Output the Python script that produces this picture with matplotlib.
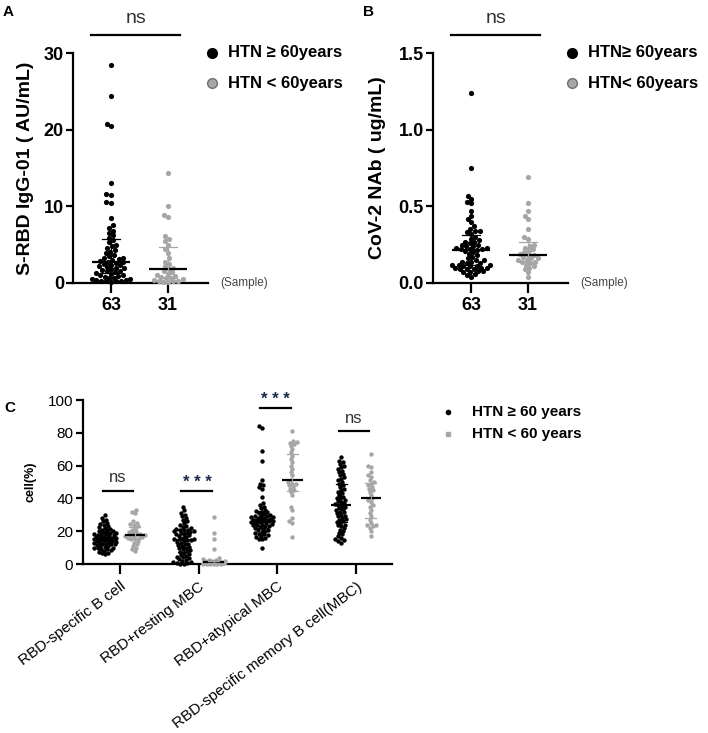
import numpy as np
import matplotlib as mpl
mpl.use('Agg')
import matplotlib.pyplot as plt
from matplotlib.lines import Line2D

plt.rcParams['font.family'] = ['Liberation Sans', 'DejaVu Sans']

# ---- data ----
groups_ab = ['HTN \u2265 60years', 'HTN < 60years']

igg_old = [28.4, 24.4, 20.7, 20.5, 13.1, 11.6, 11.5, 10.5, 10.4, 8.5,
           7.5, 7.2, 6.8, 6.5, 6.2, 5.9, 5.6, 5.3, 5.0, 4.8,
           4.6, 4.3, 4.1, 3.9, 3.7, 3.5, 3.3, 3.2, 3.1, 3.0,
           2.9, 2.8, 2.7, 2.6, 2.5, 2.4, 2.3, 2.2, 2.1, 2.0,
           1.9, 1.8, 1.7, 1.6, 1.5, 1.4, 1.3, 1.2, 1.1, 1.0,
           0.9, 0.8, 0.7, 0.6, 0.5, 0.5, 0.4, 0.4, 0.3, 0.3,
           0.2, 0.2, 0.1]
igg_young = [14.3, 10.0, 8.9, 8.6, 6.1, 5.8, 5.5, 5.0, 4.4, 3.9,
             3.2, 2.8, 2.5, 2.2, 2.0, 1.8, 1.6, 1.4, 1.2, 1.0,
             0.9, 0.8, 0.7, 0.6, 0.5, 0.4, 0.3, 0.3, 0.2, 0.1, 0.1]

nab_old = [1.24, 0.75, 0.57, 0.55, 0.53, 0.52, 0.47, 0.44, 0.42, 0.40,
           0.37, 0.35, 0.34, 0.34, 0.33, 0.32, 0.30, 0.29, 0.28, 0.27,
           0.27, 0.26, 0.25, 0.25, 0.24, 0.24, 0.23, 0.23, 0.22, 0.22,
           0.22, 0.215, 0.21, 0.20, 0.19, 0.18, 0.17, 0.16, 0.15, 0.15,
           0.14, 0.14, 0.13, 0.13, 0.12, 0.12, 0.12, 0.11, 0.11, 0.11,
           0.10, 0.10, 0.10, 0.09, 0.09, 0.09, 0.08, 0.08, 0.07, 0.07,
           0.06, 0.05, 0.04]
nab_young = [0.69, 0.52, 0.47, 0.44, 0.42, 0.35, 0.30, 0.29, 0.25, 0.24,
             0.23, 0.22, 0.21, 0.20, 0.19, 0.185, 0.18, 0.17, 0.16, 0.16,
             0.15, 0.15, 0.14, 0.14, 0.13, 0.12, 0.11, 0.10, 0.09, 0.07, 0.04]

cell_types = ['RBD-specific B cell', 'RBD+resting MBC', 'RBD+atypical MBC',
              'RBD-specific memory B cell(MBC)']
groups_c = ['HTN \u2265 60 years', 'HTN < 60 years']
signif_c = ['ns', '* * *', '* * *', 'ns']

bcell_old = [30, 28, 27, 26, 25, 24.5, 24, 23, 22.5, 22,
             21.5, 21, 20.5, 20, 20, 19.5, 19, 19, 18.5, 18,
             18, 17.5, 17.5, 17, 17, 16.5, 16.5, 16, 16, 16,
             15.5, 15.5, 15, 15, 15, 14.5, 14.5, 14, 14, 14,
             13.5, 13.5, 13, 13, 12.5, 12.5, 12, 12, 11.5, 11,
             11, 10.5, 10, 10, 9.5, 9, 9, 8.5, 8, 7.5, 7, 6.5, 6]
bcell_young = [33, 32, 31, 26, 25, 24.5, 24, 23, 22, 21,
               20, 19.5, 19, 18.5, 18, 17.7, 17.5, 17, 17, 16.5,
               16, 16, 15.5, 15, 14, 13, 12, 11, 10, 9, 8]
resting_old = [35, 33, 31, 30, 29, 28, 27, 26, 25, 24,
               23, 22.5, 22, 21.5, 21, 21, 20.5, 20, 20, 19.5,
               19, 19, 18.5, 18, 17.5, 17, 16.5, 16, 15.5, 15,
               15, 14.8, 14.5, 14, 13.5, 13, 12.5, 12, 11.5, 11,
               10.5, 10, 9.5, 9, 8.5, 8, 7.5, 7, 6, 5.5,
               5, 4.5, 4, 3.5, 3, 2.5, 2, 1.5, 1, 0.8, 0.5, 0.3, 0.2]
resting_young = [28.5, 18.7, 15, 9, 3.5, 3, 2.5, 2.2, 2, 1.8,
                 1.6, 1.5, 1.4, 1.3, 1.2, 1.1, 1.0, 0.9, 0.8, 0.8,
                 0.7, 0.6, 0.5, 0.5, 0.4, 0.3, 0.3, 0.2, 0.2, 0.1, 0.1]
atyp_old = [84, 83, 69, 63, 51, 49, 48, 47, 46, 41,
            37, 36, 35, 34, 33, 32.5, 32, 31.5, 31, 30.5,
            30, 29.5, 29, 29, 28.5, 28.5, 28, 28, 27.5, 27.5,
            27, 27, 26.5, 26.5, 26, 26, 25.5, 25.5, 25, 25,
            24.5, 24, 24, 23.5, 23, 23, 22.5, 22, 21.5, 21,
            20.5, 20, 19.5, 19, 18.5, 18, 17.5, 17, 16.5, 16, 15.5, 15, 10]
atyp_young = [81, 75, 74.5, 74, 73, 72, 70, 68, 66, 64,
              62, 60, 58, 56, 54, 51, 50, 49, 48.5, 48,
              47, 46, 45, 44, 42, 35, 33, 28, 26, 25, 16.5]
mbc_old = [65, 63, 62, 61, 60, 59, 58, 57, 56, 55,
           54, 53, 52, 51, 50, 49, 48, 47, 46, 45,
           44, 43, 42, 41, 40.5, 40, 39, 38.5, 38, 37,
           36.5, 36, 35.5, 35, 34, 33.5, 33, 32, 31.5, 31,
           30, 29.5, 29, 28, 27.5, 27, 26, 25.5, 25, 24,
           23.5, 23, 22, 21, 20, 19, 18, 17, 16, 15, 14.5, 14, 13]
mbc_young = [67, 60, 59, 56, 54, 53, 51, 50, 49, 48,
             47, 46, 45, 44, 42, 40, 39, 38, 36, 35,
             33, 31, 29, 27, 25, 24, 23.5, 23, 22, 20, 17]

BLACK = '#000000'
GRAY = '#a6a6a6'
W, H = 708, 733

fig = plt.figure(figsize=(W / 100, H / 100), dpi=100)


def px_axes(l, t, r, b):
    return fig.add_axes([l / W, 1 - b / H, (r - l) / W, (b - t) / H])


def swarm(ax, x0, vals, d, maxw):
    # simple beeswarm in pixel space, width capped at maxw
    vals = np.asarray(vals, float)
    pts = ax.transData.transform(np.column_stack([np.full(len(vals), x0), vals]))
    ys, xc = pts[:, 1], pts[0, 0]
    grid = np.arange(-maxw, maxw + 0.01, 0.5)
    placed = []
    offs = np.zeros(len(vals))
    for i in np.argsort(ys):
        cost = np.abs(grid) * 1e-3
        for px, py in placed:
            dy = ys[i] - py
            if abs(dy) < d:
                dist = np.sqrt((grid - px) ** 2 + dy ** 2)
                cost = cost + np.clip(d - dist, 0, None) ** 2
        j = np.argmin(cost)
        offs[i] = grid[j]
        placed.append((grid[j], ys[i]))
    back = ax.transData.inverted().transform(np.column_stack([xc + offs, ys]))
    return back[:, 0]


def draw_group(ax, x0, vals, color, s, d, maxw, mhw, chw):
    xs = swarm(ax, x0, vals, d, maxw)
    ax.scatter(xs, vals, s=s, c=color, linewidths=0, clip_on=False, zorder=3)
    med = np.median(vals)
    q1, q3 = np.percentile(vals, [25, 75])
    ax.plot([x0 - mhw, x0 + mhw], [med, med], color='black', lw=1.6, zorder=4,
            solid_capstyle='butt')
    ax.plot([x0, x0], [q1, q3], color=color, lw=0.9, zorder=4)
    for q in (q1, q3):
        ax.plot([x0 - chw, x0 + chw], [q, q], color=color, lw=0.9, zorder=4)


def style_axes(ax, fs, bold):
    for sp in ('top', 'right'):
        ax.spines[sp].set_visible(False)
    for sp in ('left', 'bottom'):
        ax.spines[sp].set_linewidth(1.6)
    ax.tick_params(width=1.6, direction='out', labelsize=fs)
    for lab in ax.get_xticklabels() + ax.get_yticklabels():
        lab.set_fontweight('bold' if bold else 'normal')


def legend_rows(x_marker, x_text, ys, labels, markers, fs):
    for y, lab, (mk, ms, fc, ec) in zip(ys, labels, markers):
        fig.add_artist(Line2D([x_marker / W], [1 - y / H], marker=mk, ms=ms,
                              mfc=fc, mec=ec, mew=1, ls='none',
                              transform=fig.transFigure))
        fig.text(x_text / W, 1 - y / H, lab, fontsize=fs, fontweight='bold',
                 va='center', ha='left')


# ---- panels A and B ----
panels = [
    (73, 'A', igg_old, igg_young, (0, 30), [0, 10, 20, 30], ['0', '10', '20', '30'],
     'S-RBD IgG-01 ( AU/mL)', groups_ab, 7),
    (433, 'B', nab_old, nab_young, (0, 1.5), [0, 0.5, 1.0, 1.5], ['0.0', '0.5', '1.0', '1.5'],
     'CoV-2 NAb ( ug/mL)', ['HTN\u2265 60years', 'HTN< 60years'], 9),
]
for left, tag, old, young, ylim, yt, ytl, ylab, labs, lpad in panels:
    ax = px_axes(left, 53, left + 135, 283)
    ax.set_xlim(-0.667, 1.70)
    ax.set_ylim(*ylim)
    draw_group(ax, 0, old, BLACK, 14, 4.6, 19, 0.33, 0.16)
    draw_group(ax, 1, young, GRAY, 14, 4.6, 19, 0.33, 0.16)
    ax.set_xticks([0, 1])
    ax.set_xticklabels([str(len(old)), str(len(young))])
    ax.set_yticks(yt)
    ax.set_yticklabels(ytl)
    ax.tick_params(axis='y', length=5, pad=1.5)
    ax.tick_params(axis='x', length=7, pad=3)
    style_axes(ax, 13, True)
    ax.set_ylabel(ylab, fontsize=14, fontweight='bold', labelpad=lpad)
    # significance bar
    tr = ax.get_xaxis_transform()
    ax.plot([-0.35, 1.21], [1.078, 1.078], color='black', lw=1.6, transform=tr,
            clip_on=False)
    ax.text(0.43, 1.148, 'ns', fontsize=14, color='#333333', ha='center',
            va='center', transform=tr)
    ax.text(1.92, 0, '(Sample)', fontsize=8.5, color='#444444', ha='left',
            va='center', transform=tr)
    fig.text((left - 70) / W, 1 - 12 / H, tag, fontsize=11, fontweight='bold',
             va='center', ha='left')
    legend_rows(left + 139, left + 155, [52.7, 83.3], labs,
                [('o', 7, BLACK, BLACK), ('o', 7, GRAY, '#707070')], 12)

# ---- panel C ----
axC = px_axes(83, 400, 392, 564)
axC.set_xlim(-0.47, 3.457)
axC.set_ylim(0, 100)
olds = [bcell_old, resting_old, atyp_old, mbc_old]
youngs = [bcell_young, resting_young, atyp_young, mbc_young]
for i in range(len(cell_types)):
    draw_group(axC, i - 0.19, olds[i], BLACK, 10, 3.4, 11, 0.13, 0.07)
    draw_group(axC, i + 0.19, youngs[i], GRAY, 10, 3.4, 11, 0.13, 0.07)

sig_y = [44.5, 44.5, 95, 81]
for i, (lab, y) in enumerate(zip(signif_c, sig_y)):
    axC.plot([i - 0.22, i + 0.17], [y, y], color='black', lw=1.6, clip_on=False)
    if lab == 'ns':
        axC.text(i - 0.03, y + 8, lab, fontsize=12, color='#333333',
                 ha='center', va='center', clip_on=False)
    else:
        axC.text(i - 0.02, y + 5, lab, fontsize=12, color='#1b2a49',
                 ha='center', va='center', fontweight='bold', clip_on=False)

axC.set_xticks(range(len(cell_types)))
axC.set_xticklabels(cell_types, rotation=37, ha='right', va='top',
                    rotation_mode='anchor')
axC.set_yticks([0, 20, 40, 60, 80, 100])
axC.tick_params(axis='y', length=5, pad=2)
axC.tick_params(axis='x', length=7, pad=4)
style_axes(axC, 11, False)
for lab in axC.get_xticklabels():
    lab.set_fontsize(11)
axC.set_ylabel('cell(%)', fontsize=9, fontweight='bold', labelpad=8)
fig.text(4 / W, 1 - 408 / H, 'C', fontsize=11, fontweight='bold',
         va='center', ha='left')
legend_rows(448, 472, [412, 434], groups_c,
            [('o', 3, BLACK, BLACK), ('s', 2.5, GRAY, GRAY)], 11)

fig.savefig('out.png', dpi=100)
